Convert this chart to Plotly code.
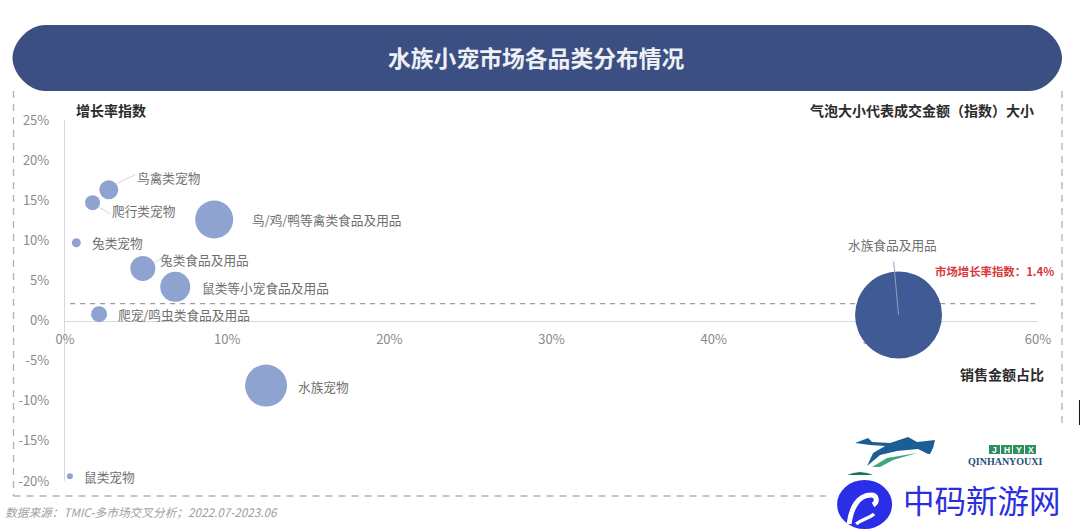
import plotly.graph_objects as go

W, H = 1080, 531
L, R, T, B = 64.5, 1038.0, 120.0, 481.0

categories = ["鸟禽类宠物", "爬行类宠物", "鸟/鸡/鸭等禽类食品及用品", "兔类宠物", "兔类食品及用品",
              "鼠类等小宠食品及用品", "爬宠/鸣虫类食品及用品", "水族宠物", "鼠类宠物", "水族食品及用品"]
sales_share = [2.7, 1.7, 9.2, 0.7, 4.8, 6.8, 2.1, 12.4, 0.3, 51.4]
growth_index = [16.3, 14.7, 12.6, 9.7, 6.5, 4.2, 0.8, -8.1, -19.4, 0.7]
amount_index = [90, 56, 361, 20, 156, 225, 64, 441, 9, 1892]
market_line = 2.1
line_x = [-0.3, 60.5]
tick_x = [0, 10, 20, 30, 40, 50, 60]
tick_y = [-20, -15, -10, -5, 0, 5, 10, 15, 20, 25]
tick_x_text = ["0%", "10%", "20%", "30%", "40%", "50%", "60%"]
tick_y_text = ["-20%", "-15%", "-10%", "-5%", "0%", "5%", "10%", "15%", "20%", "25%"]

FONT = "Noto Sans CJK SC"

def px(x):
    return (x - L) / (R - L)
def py(y):
    return (B - y) / (B - T)

colors = ["#8fa3d0"] * 9 + ["#3f5a94"]

fig = go.Figure()
fig.add_trace(go.Scatter(x=line_x, y=[market_line, market_line], mode="lines", cliponaxis=False,
                         line=dict(color="#9a9a9a", width=1.3, dash="5px,5px"), hoverinfo="skip"))
fig.add_trace(go.Scatter(x=sales_share, y=growth_index, mode="markers", text=categories, cliponaxis=False,
                         marker=dict(size=amount_index, sizemode="area", sizeref=0.5, color=colors,
                                     line=dict(width=0), opacity=1)))

def label(i, dx, dy, size=12.7):
    fig.add_annotation(x=sales_share[i], y=growth_index[i], text=categories[i], showarrow=False,
                       xanchor="left", yanchor="middle", xshift=dx, yshift=-dy,
                       font=dict(family=FONT, size=size, color="#6f6f6f"))

label_offsets = [(26, -12), (17, 8), (36, 0), (14, 0), (15, -9), (25, 1), (17, 0), (30, 1), (12, 0), (-53, -70)]
for i, (dx, dy) in enumerate(label_offsets):
    label(i, dx, dy)

def leader(i, x0, y0, x1, y1):
    fig.add_annotation(x=sales_share[i], y=growth_index[i], text="", showarrow=True, arrowhead=0,
                       arrowwidth=1, arrowcolor="#d4d4d4", ax=x1, ay=y1, standoff=0, startstandoff=0,
                       xshift=x0, yshift=-y0)

leader(0, 8, -6, 20, -10)
leader(1, 7, 5, 12, 7)
leader(4, 12, -6, 13, -7)
fig.add_annotation(x=sales_share[9], y=growth_index[9], text="", showarrow=True, arrowhead=0,
                   arrowwidth=1, arrowcolor="#8ea2c4", ax=-5, ay=-55, standoff=0)

def text(x, y, s, size, color, bold=False, anchor="center", family=FONT):
    fig.add_annotation(xref="paper", yref="paper", x=px(x), y=py(y), text=f"<b>{s}</b>" if bold else s,
                       showarrow=False, xanchor=anchor, yanchor="middle",
                       font=dict(family=family, size=size, color=color))

text(536, 57.5, "水族小宠市场各品类分布情况", 22.8, "#eef0f5", True)
text(110.5, 110, "增长率指数", 14, "#2b2b2b", True)
text(922, 110, "气泡大小代表成交金额（指数）大小", 14, "#2b2b2b", True)
text(1001.5, 374, "销售金额占比", 14, "#2b2b2b", True)
text(994.5, 270.5, "市场增长率指数：1.4%", 11.4, "#d63a3a", True)
text(2, 511, "<i>数据来源：TMIC-多市场交叉分析；2022.07-2023.06</i>", 11.7, "#a0a0a0", False, "left")

# banner with round ends
r = 33
k = r * 0.45
x0, x1, y0, y1 = 12, 1062, 25, 91
def P(a, b):
    return f"{px(a)} {py(b)}"
banner = (f"M {P(x0+r, y0)} L {P(x1-r, y0)} C {P(x1-r+k+3, y0)} {P(x1, y0+r-k)} {P(x1, y0+r)} "
          f"C {P(x1, y1-r+k)} {P(x1-r+k+3, y1)} {P(x1-r, y1)} L {P(x0+r, y1)} "
          f"C {P(x0+r-k-3, y1)} {P(x0, y1-r+k)} {P(x0, y0+r)} C {P(x0, y0+r-k)} {P(x0+r-k-3, y0)} {P(x0+r, y0)} Z")
shapes = [dict(type="path", path=banner, xref="paper", yref="paper", fillcolor="#3c4f82", line=dict(width=0), layer="below")]

# dashed frame
for a, b, c, d in [(13, 91, 13, 496), (13, 496, 828, 496), (1062, 91, 1062, 425)]:
    shapes.append(dict(type="line", xref="paper", yref="paper", x0=px(a), y0=py(b), x1=px(c), y1=py(d),
                       line=dict(color="#aab2c2", width=1.3, dash="7px,6px"), layer="below"))

# watermark
def poly(pts, fill):
    return dict(type="path", path="M " + " L ".join(P(a, b) for a, b in pts) + " Z", xref="paper", yref="paper",
                fillcolor=fill, line=dict(width=0), layer="above")

shapes.append(dict(type="rect", xref="paper", yref="paper", x0=px(826), y0=py(425), x1=px(1080), y1=py(531),
                   fillcolor="white", line=dict(width=0), layer="above"))
shapes.append(poly([(855, 443), (868, 438), (872, 442), (890, 443), (908, 437), (917, 442), (935, 440), (933, 448),
                    (930, 454), (928, 454), (918, 449), (897, 451), (880, 455), (867, 466), (873, 453), (885, 446),
                    (870, 445)], "#1b5e96"))
shapes.append(poly([(872, 467), (887, 458), (917, 453), (893, 460), (880, 467)], "#3aa783"))
shapes.append(poly([(847, 475), (853, 473), (860, 472), (867, 473), (873, 475)], "#14795f"))
shapes.append(dict(type="circle", xref="paper", yref="paper", x0=px(837), y0=py(480), x1=px(892), y1=py(529),
                   fillcolor="#2a2ee6", line=dict(width=0), layer="above"))
shapes.append(dict(type="path", xref="paper", yref="paper", layer="above", line=dict(color="white", width=5),
                   path=f"M {P(849, 524)} C {P(851, 508)} {P(858, 495)} {P(871, 495)} C {P(877, 495)} {P(878, 502)} {P(873, 505)}"))
shapes.append(dict(type="path", xref="paper", yref="paper", layer="above", line=dict(color="white", width=3.5),
                   path=f"M {P(856, 524)} C {P(862, 519)} {P(868, 519)} {P(874, 514)}"))
for a in (989, 1001, 1013, 1025):
    shapes.append(dict(type="rect", xref="paper", yref="paper", x0=px(a), y0=py(445), x1=px(a + 11), y1=py(454),
                       fillcolor="#2f8f5f", line=dict(width=0), layer="above"))
shapes.append(dict(type="line", xref="paper", yref="paper", x0=px(1079.5), y0=py(400), x1=px(1079.5), y1=py(425),
                   line=dict(color="#111111", width=1), layer="above"))
fig.update_layout(shapes=shapes)

text(981.5, 499, "中码新游网", 31.5, "#2a2ee0")
text(1005, 461, "QINHANYOUXI", 10, "#1d4f7c", True, family="Liberation Serif")
for a, s in zip((994.5, 1006.5, 1018.5, 1030.5), "JHYX"):
    text(a, 449.5, s, 8.5, "white", True, family="Liberation Sans")

axis_font = dict(family=FONT, size=13, color="#8a8a8a")
fig.update_layout(
    width=W, height=H, autosize=False, showlegend=False, paper_bgcolor="white", plot_bgcolor="white",
    margin=dict(l=L, r=W - R, t=T, b=H - B, pad=0),
    xaxis=dict(range=[0, 60], tickmode="array", tickvals=tick_x, ticktext=tick_x_text, showgrid=False, zeroline=False,
               showline=True, linecolor="#d5d8df", linewidth=1.2, anchor="free", layer="below traces",
               position=(0 - tick_y[0]) / (tick_y[-1] - tick_y[0]),
               ticks="outside", ticklen=7, tickcolor="rgba(0,0,0,0)", tickfont=axis_font),
    yaxis=dict(range=[tick_y[0], tick_y[-1]], tickmode="array", tickvals=tick_y, ticktext=tick_y_text, showgrid=False, zeroline=False,
               showline=True, linecolor="#d5d8df", linewidth=1.2, layer="below traces",
               ticks="outside", ticklen=12, tickcolor="rgba(0,0,0,0)", tickfont=axis_font),
)

fig.write_html("out.html", post_script="document.body.style.margin='0';", config={"displayModeBar": False})
